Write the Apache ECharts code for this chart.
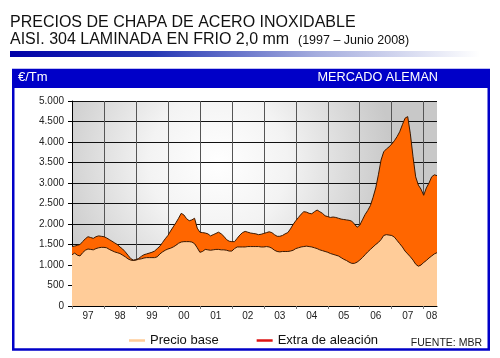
<!DOCTYPE html>
<html>
<head>
<meta charset="utf-8">
<script src="https://cdn.jsdelivr.net/npm/echarts@6/dist/echarts.min.js"></script>
<style>
html,body{margin:0;padding:0;background:#fff;}
#c{width:500px;height:358px;}
</style>
</head>
<body>
<div id="c"></div>
<script>
// Year tick labels (Jan 1997 .. Jun 2008, monthly)
const yearLabels = ['97','98','99','00','01','02','03','04','05','06','07','08'];
const monthsPerYear = [12,12,12,12,12,12,12,12,12,12,12,6];

// Precio base (€/Tm), monthly
const precioBase = [
1250,1290,1240,1220,1300,1360,1390,1380,1370,1400,1420,1430,
1430,1420,1380,1350,1320,1300,1280,1240,1200,1150,1120,1110,
1120,1140,1150,1170,1180,1180,1180,1180,1200,1270,1320,1360,
1390,1410,1440,1480,1530,1560,1570,1570,1570,1560,1520,1420,
1310,1330,1380,1370,1360,1370,1380,1380,1370,1370,1360,1340,
1340,1400,1440,1440,1440,1440,1450,1450,1450,1450,1450,1440,
1440,1450,1440,1410,1360,1330,1320,1330,1330,1330,1340,1360,
1400,1420,1440,1450,1460,1450,1440,1420,1400,1370,1350,1330,
1310,1280,1260,1240,1220,1180,1140,1110,1070,1040,1040,1070,
1120,1180,1250,1320,1380,1440,1500,1550,1620,1720,1740,1730,
1720,1680,1600,1520,1440,1340,1270,1200,1120,1020,970,1000,
1060,1110,1170,1220,1270,1300
];

// Extra de aleación (€/Tm), monthly, stacked on top of base
const extraAleacion = [
200,170,240,280,270,280,300,290,280,290,290,270,
260,240,240,230,220,200,160,150,120,90,40,10,
10,20,60,80,90,110,130,160,200,190,230,280,
330,420,490,550,610,700,650,560,510,540,620,480,
490,460,400,390,350,370,390,420,390,330,260,240,
230,170,210,290,350,380,350,330,320,310,290,310,
330,340,370,380,380,370,380,390,430,460,540,630,
680,740,800,850,830,810,810,880,940,930,910,870,
870,880,910,920,920,940,970,990,1020,1030,960,850,
850,920,980,1010,1070,1210,1380,1650,1940,2040,2090,2150,
2230,2350,2530,2730,2980,3240,3350,3000,2520,2130,1980,1850,
1640,1770,1830,1930,1930,1880
];

const yTicks = {min:0, max:5000, interval:500};

const months = [];
yearLabels.forEach((y,i)=>{ for(let m=1;m<=monthsPerYear[i];m++){ months.push(y+'-'+(m<10?'0'+m:m)); } });
const lastYearLabelIdx = months.length - 3; // centre of the partial 2008

const FONT = 'Liberation Sans, Arial, sans-serif';
const BLUE = '#0000c8';

const chart = echarts.init(document.getElementById('c'), null, {renderer:'canvas'});
chart.setOption({
  animation:false,
  backgroundColor:'#ffffff',
  textStyle:{fontFamily:FONT},
  grid:{
    left:72, top:101, right:63, bottom:52,
    show:true, borderWidth:0,
    backgroundColor: new echarts.graphic.RadialGradient(0.4, 0.3, 0.85, [
      {offset:0, color:'#ffffff'},
      {offset:0.4, color:'#f3f3f3'},
      {offset:1, color:'#c8c8c8'}
    ])
  },
  xAxis:{
    type:'category', data:months, boundaryGap:false,
    axisLine:{show:true, lineStyle:{color:'#000', width:1}},
    axisTick:{show:true, length:3, interval:(i)=> i%12===0, lineStyle:{color:'#777'}},
    axisLabel:{
      interval:(i)=> (i%12===6 && i<months.length-3) || i===lastYearLabelIdx,
      formatter:(v)=> v.slice(0,2),
      color:'#222', fontSize:10, fontFamily:FONT, margin:5
    },
    splitLine:{show:true, interval:(i)=> i%12===0, lineStyle:{color:'#555', width:1}}
  },
  yAxis:{
    type:'value', min:yTicks.min, max:yTicks.max, interval:yTicks.interval,
    axisLine:{show:true, lineStyle:{color:'#000', width:1}},
    axisTick:{show:true, length:4, lineStyle:{color:'#000'}},
    axisLabel:{
      color:'#222', fontSize:10, fontFamily:FONT, margin:8,
      formatter:(v)=> String(v).replace(/\B(?=(\d{3})+(?!\d))/g,'.')
    },
    splitLine:{show:true, lineStyle:{color:'#111', width:1}}
  },
  legend:{
    left:124, top:329, icon:'rect', itemWidth:16, itemHeight:2.5, itemGap:38,
    textStyle:{fontSize:13, color:'#111', fontFamily:FONT},
    data:[
      {name:'Precio base', itemStyle:{color:'#ffcc99'}},
      {name:'Extra de aleación', itemStyle:{color:'#dd1515'}}
    ]
  },
  series:[
    {
      name:'Precio base', type:'line', stack:'total', data:precioBase,
      symbol:'none', showSymbol:false,
      itemStyle:{color:'#ffcc99'},
      lineStyle:{color:'#3a1800', width:1},
      areaStyle:{color:'#ffcc99', opacity:1}
    },
    {
      name:'Extra de aleación', type:'line', stack:'total', data:extraAleacion,
      symbol:'none', showSymbol:false,
      itemStyle:{color:'#dd1515'},
      lineStyle:{color:'#3a1800', width:1},
      areaStyle:{color:'#ff6600', opacity:1}
    }
  ],
  graphic:[
    {type:'text', left:10, top:15, style:{text:'PRECIOS DE CHAPA DE ACERO INOXIDABLE', font:'16px '+FONT, fill:'#111'}},
    {type:'text', left:10, top:32, style:{text:'AISI. 304 LAMINADA EN FRIO 2,0 mm', font:'16px '+FONT, fill:'#111'}},
    {type:'text', left:298, top:34.5, style:{text:'(1997 – Junio 2008)', font:'12.5px '+FONT, fill:'#111'}},
    {type:'rect', shape:{x:10, y:51, width:470, height:6},
      style:{fill:new echarts.graphic.LinearGradient(0,0,1,0,[
        {offset:0, color:'#0000a8'},
        {offset:0.3, color:'#2436b4'},
        {offset:0.65, color:'#a4acde'},
        {offset:1, color:'#ffffff'}
      ])}},
    {type:'rect', z:-10, shape:{x:13.25, y:70, width:475.5, height:279.5},
      style:{fill:'none', stroke:BLUE, lineWidth:2.5}},
    {type:'rect', shape:{x:12, y:69, width:478, height:19}, style:{fill:BLUE}},
    {type:'text', left:18, top:71, style:{text:'€/Tm', font:'13px '+FONT, fill:'#fff'}},
    {type:'text', right:62, top:71, style:{text:'MERCADO ALEMAN', font:'12.7px '+FONT, fill:'#fff'}},
    {type:'text', right:18, top:338, style:{text:'FUENTE: MBR', font:'10.5px '+FONT, fill:'#222'}}
  ]
});
</script>
</body>
</html>
